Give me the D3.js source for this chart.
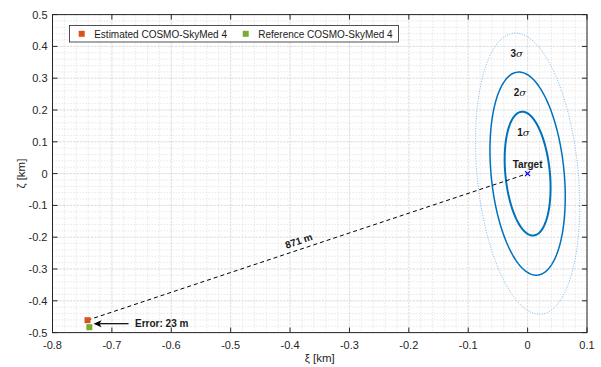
<!DOCTYPE html>
<html><head><meta charset="utf-8">
<script src="https://cdn.jsdelivr.net/npm/d3@7"></script>
<style>
body{margin:0;background:#fff;}
svg{display:block;font-family:"Liberation Sans",Arial,Helvetica,sans-serif;}
</style></head>
<body>
<svg id="c" width="601" height="367"></svg>
<script>
// ---- data ----
const xTicks = [-0.8,-0.7,-0.6,-0.5,-0.4,-0.3,-0.2,-0.1,0,0.1];
const yTicks = [-0.5,-0.4,-0.3,-0.2,-0.1,0,0.1,0.2,0.3,0.4,0.5];
const target = [0, 0];
const estimated = [-0.741, -0.461];
const reference = [-0.738, -0.483];
// error ellipse: sigma_xi, sigma_zeta, correlation, scale factors (sqrt chi2, 2 dof)
const sigma = [0.0255, 0.1285];
const rho = -0.23;
const ellipseLabels = ["1σ", "2σ", "3σ"];
const ellipseScale = [1.515, 2.486, 3.44];
const distLabel = "871 m";
const errorLabel = "Error: 23 m";
const legendLabels = ["Estimated COSMO-SkyMed 4", "Reference COSMO-SkyMed 4"];

// ---- layout ----
const svg = d3.select("#c");
const L = 52.5, R = 587, T = 14.6, B = 332.6;
const x = d3.scaleLinear().domain([-0.8, 0.1]).range([L, R]);
const y = d3.scaleLinear().domain([-0.5, 0.5]).range([B, T]);

// grid
const g = svg.append("g");
const minorX = d3.range(-0.8, 0.1001, 0.02);
const minorY = d3.range(-0.5, 0.5001, 0.02);
g.selectAll(".mx").data(minorX).enter().append("line")
  .attr("x1", d => x(d)).attr("x2", d => x(d)).attr("y1", T).attr("y2", B)
  .attr("stroke", "#dedede").attr("stroke-width", 0.7).attr("stroke-dasharray", "1.5,1.5");
g.selectAll(".my").data(minorY).enter().append("line")
  .attr("y1", d => y(d)).attr("y2", d => y(d)).attr("x1", L).attr("x2", R)
  .attr("stroke", "#dedede").attr("stroke-width", 0.7).attr("stroke-dasharray", "1.5,1.5");
g.selectAll(".Mx").data(xTicks).enter().append("line")
  .attr("x1", d => x(d)).attr("x2", d => x(d)).attr("y1", T).attr("y2", B)
  .attr("stroke", "#d6d6d6").attr("stroke-width", 0.7).attr("stroke-dasharray", "2,1.5");
g.selectAll(".My").data(yTicks).enter().append("line")
  .attr("y1", d => y(d)).attr("y2", d => y(d)).attr("x1", L).attr("x2", R)
  .attr("stroke", "#d6d6d6").attr("stroke-width", 0.7).attr("stroke-dasharray", "2,1.5");

// ellipses
const ts = d3.range(0, 2 * Math.PI, Math.PI / 90);
function ellipsePts(k) {
  return ts.map(t => [
    target[0] + k * sigma[0] * Math.cos(t),
    target[1] + k * sigma[1] * (rho * Math.cos(t) + Math.sqrt(1 - rho * rho) * Math.sin(t))
  ]);
}
const line = d3.line().x(d => x(d[0])).y(d => y(d[1])).curve(d3.curveLinearClosed);
const eStyle = [
  {c: "#0072BD", w: 2, dash: null},
  {c: "#0072BD", w: 1.5, dash: null},
  {c: "#5aa9e6", w: 0.8, dash: "1,1.5"}
];
ellipseScale.forEach((k, i) => {
  svg.append("path").attr("d", line(ellipsePts(k)))
    .attr("fill", "none").attr("stroke", eStyle[i].c).attr("stroke-width", eStyle[i].w)
    .attr("stroke-dasharray", eStyle[i].dash);
});
// sigma labels (placed just below top of each ellipse)
const labelOffsets = [0.065, 0.065, 0.065];
ellipseScale.forEach((k, i) => {
  const topY = k * sigma[1];
  const topX = k * sigma[0] * rho;
  const t = svg.append("text").attr("x", x(topX) + 1).attr("y", y(topY - labelOffsets[i]) + 3.5)
    .attr("text-anchor", "middle").attr("font-size", 10).attr("font-weight", "bold").attr("fill", "#1a1a1a");
  t.append("tspan").text(ellipseLabels[i][0]);
  t.append("tspan").attr("font-style", "italic").attr("font-weight", "normal").attr("font-family", "'DejaVu Serif',serif").text(ellipseLabels[i].slice(1));
});

// dashed distance line
svg.append("line")
  .attr("x1", x(estimated[0])).attr("y1", y(estimated[1]))
  .attr("x2", x(target[0])).attr("y2", y(target[1]))
  .attr("stroke", "#000").attr("stroke-width", 1).attr("stroke-dasharray", "4,3");
const ang = Math.atan2(y(target[1]) - y(estimated[1]), x(target[0]) - x(estimated[0])) * 180 / Math.PI;
const fr = 0.486;
const mx = x(estimated[0]) + fr * (x(target[0]) - x(estimated[0]));
const my = y(estimated[1]) + fr * (y(target[1]) - y(estimated[1]));
svg.append("text").attr("transform", `translate(${mx},${my}) rotate(${ang}) translate(0,-5)`)
  .attr("text-anchor", "middle").attr("font-size", 10).attr("font-weight", "bold").attr("fill", "#1a1a1a")
  .text(distLabel);

// target marker
const tx = x(target[0]), ty = y(target[1]);
svg.append("path").attr("d", `M${tx-2.5},${ty-2.5}L${tx+2.5},${ty+2.5}M${tx-2.5},${ty+2.5}L${tx+2.5},${ty-2.5}`)
  .attr("stroke", "#0000ff").attr("stroke-width", 1.2);
svg.append("text").attr("x", tx).attr("y", ty - 6).attr("text-anchor", "middle")
  .attr("font-size", 10).attr("font-weight", "bold").attr("fill", "#1a1a1a").text("Target");

// satellite markers
const sq = 6;
svg.append("rect").attr("x", x(reference[0]) - sq/2).attr("y", y(reference[1]) - sq/2)
  .attr("width", sq).attr("height", sq).attr("fill", "#77AC30");
svg.append("rect").attr("x", x(estimated[0]) - sq/2).attr("y", y(estimated[1]) - sq/2)
  .attr("width", sq).attr("height", sq).attr("fill", "#D95319");

// error arrow
const ay = y(estimated[1]) + 3.5;
const ax0 = x(estimated[0]) + 6, ax1 = ax0 + 35;
svg.append("line").attr("x1", ax0 + 6).attr("y1", ay).attr("x2", ax1).attr("y2", ay)
  .attr("stroke", "#000").attr("stroke-width", 1.2);
svg.append("path").attr("d", `M${ax0},${ay}L${ax0+8},${ay-3.5}L${ax0+6},${ay}L${ax0+8},${ay+3.5}Z`).attr("fill", "#000");
svg.append("text").attr("x", ax1 + 6.5).attr("y", ay + 3.7).attr("font-size", 10).attr("font-weight", "bold")
  .attr("fill", "#1a1a1a").text(errorLabel);

// axes frame
const axc = "#262626";
svg.append("rect").attr("x", L).attr("y", T).attr("width", R - L).attr("height", B - T)
  .attr("fill", "none").attr("stroke", axc).attr("stroke-width", 1);
const tl = 5;
xTicks.forEach(v => {
  svg.append("line").attr("x1", x(v)).attr("x2", x(v)).attr("y1", B).attr("y2", B - tl).attr("stroke", axc);
  svg.append("line").attr("x1", x(v)).attr("x2", x(v)).attr("y1", T).attr("y2", T + tl).attr("stroke", axc);
  svg.append("text").attr("x", x(v)).attr("y", B + 16).attr("text-anchor", "middle")
    .attr("font-size", 11).attr("fill", "#262626").text(v === 0 ? "0" : d3.format(".1f")(v).replace("−", "-"));
});
yTicks.forEach(v => {
  svg.append("line").attr("y1", y(v)).attr("y2", y(v)).attr("x1", L).attr("x2", L + tl).attr("stroke", axc);
  svg.append("line").attr("y1", y(v)).attr("y2", y(v)).attr("x1", R).attr("x2", R - tl).attr("stroke", axc);
  svg.append("text").attr("x", L - 5).attr("y", y(v) + 4).attr("text-anchor", "end")
    .attr("font-size", 11).attr("fill", "#262626").text(v === 0 ? "0" : d3.format(".1f")(v).replace("−", "-"));
});
// axis labels
svg.append("text").attr("x", (L + R) / 2).attr("y", 362).attr("text-anchor", "middle")
  .attr("font-size", 11.5).attr("fill", "#262626").text("ξ [km]");
svg.append("text").attr("transform", `translate(25,${(T + B) / 2}) rotate(-90)`).attr("text-anchor", "middle")
  .attr("font-size", 11.5).attr("fill", "#262626").text("ζ [km]");

// legend
const lg = svg.append("g");
lg.append("rect").attr("x", 69.5).attr("y", 25.5).attr("width", 329).attr("height", 16.5)
  .attr("fill", "#fff").attr("stroke", "#262626").attr("stroke-width", 0.8);
const legColors = ["#D95319", "#77AC30"];
const legX = [81.7, 245.7];
legendLabels.forEach((lab, i) => {
  lg.append("rect").attr("x", legX[i] - 3).attr("y", 33.8 - 3).attr("width", 6).attr("height", 6).attr("fill", legColors[i]);
  lg.append("text").attr("x", legX[i] + 12.5).attr("y", 37.5).attr("font-size", 10).attr("fill", "#1a1a1a").text(lab);
});
</script>
</body></html>
